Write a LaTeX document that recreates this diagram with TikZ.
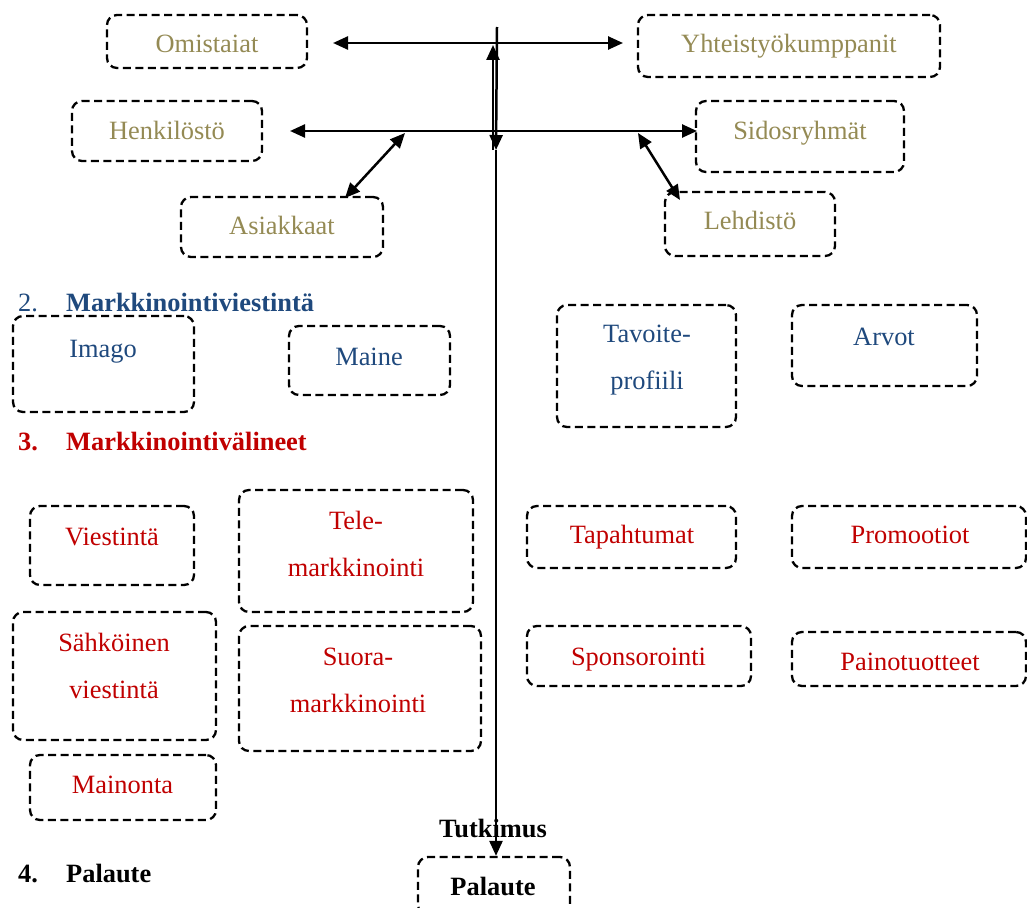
\documentclass[tikz,border=0pt]{standalone}
\usepackage{fontspec}
\setmainfont{Liberation Serif}
\usetikzlibrary{arrows.meta}
\definecolor{olv}{HTML}{948A54}
\definecolor{blu}{HTML}{1F497D}
\definecolor{rd}{HTML}{C00000}
\begin{document}
\begin{tikzpicture}[x=1pt,y=-1pt,
  box/.style={draw, dash pattern=on 8pt off 4.5pt, line width=2.3pt, rounded corners=10pt, inner sep=0pt},
  lbl/.style={font=\fontsize{26.4}{47}\selectfont, inner sep=0pt, text height=18pt, text depth=5pt},
  lblm/.style={font=\fontsize{26.4}{47}\selectfont, inner sep=0pt, align=center},
  head/.style={font=\fontsize{26.4}{30}\selectfont\bfseries, inner sep=0pt, text height=18pt, text depth=5pt, anchor=west},
  arr/.style={line width=2.5pt, -{Triangle[length=15pt,width=13pt]}},
  dbl/.style={line width=2.5pt, {Triangle[length=15pt,width=13pt]}-{Triangle[length=15pt,width=13pt]}}]
\useasboundingbox (0,0) rectangle (1027,907);
% --- olive boxes
\node[box, minimum width=200pt, minimum height=53pt] (om) at (207,41.5) {};
\node[lbl, text=olv] (omt) at (207,46) {Omistaiat};
\node[box, minimum width=302pt, minimum height=62pt] (yh) at (789,46) {};
\node[lbl, text=olv] (yht) at (789,46) {Yhteistyökumppanit};
\node[box, minimum width=190pt, minimum height=60pt] (he) at (167,131) {};
\node[lbl, text=olv] (het) at (167,133) {Henkilöstö};
\node[box, minimum width=208pt, minimum height=71pt] (si) at (800,136.5) {};
\node[lbl, text=olv] (sit) at (800,133) {Sidosryhmät};
\node[box, minimum width=202pt, minimum height=60pt] (as) at (282,227) {};
\node[lbl, text=olv] (ast) at (282,228) {Asiakkaat};
\node[box, minimum width=170pt, minimum height=64pt] (le) at (750,224) {};
\node[lbl, text=olv] (let) at (750,223) {Lehdistö};
% --- heading 2
\node[font=\fontsize{26.4}{30}\selectfont, inner sep=0pt, text height=18pt, text depth=5pt, anchor=west, text=blu] (h2n) at (18,305) {2.};
\node[head, text=blu] (h2) at (66,305) {Markkinointiviestintä};
% --- blue boxes
\node[box, minimum width=181pt, minimum height=96pt] (im) at (103.5,364) {};
\node[lbl, text=blu] (imt) at (103,351) {Imago};
\node[box, minimum width=161pt, minimum height=69pt] (ma) at (369.5,360.5) {};
\node[lbl, text=blu] (mat) at (369,359) {Maine};
\node[box, minimum width=179pt, minimum height=122pt] (ta) at (646.5,366) {};
\node[lblm, text=blu] (tat) at (647,360) {Tavoite-\\profiili};
\node[box, minimum width=185pt, minimum height=81pt] (ar) at (884.5,345.5) {};
\node[lbl, text=blu] (art) at (884,339) {Arvot};
% --- heading 3
\node[head, text=rd] (h3n) at (18,444) {3.};
\node[head, text=rd] (h3) at (66,444) {Markkinointivälineet};
% --- red boxes
\node[box, minimum width=164pt, minimum height=79pt] (vi) at (112,545.5) {};
\node[lbl, text=rd] (vit) at (112,539) {Viestintä};
\node[box, minimum width=234pt, minimum height=122pt] (te) at (356,551) {};
\node[lblm, text=rd] (tet) at (356,544) {Tele-\\markkinointi};
\node[box, minimum width=209pt, minimum height=62pt] (tp) at (631.5,537) {};
\node[lbl, text=rd] (tpt) at (632,537) {Tapahtumat};
\node[box, minimum width=234pt, minimum height=62pt] (pr) at (909,537) {};
\node[lbl, text=rd] (prt) at (910,537) {Promootiot};
\node[box, minimum width=203pt, minimum height=128pt] (sa) at (114.5,676) {};
\node[lblm, text=rd] (sat) at (114,666) {Sähköinen\\viestintä};
\node[box, minimum width=242pt, minimum height=125pt] (su) at (360,688.5) {};
\node[lblm, text=rd] (sut) at (358,680) {Suora-\\markkinointi};
\node[box, minimum width=224pt, minimum height=60pt] (sp) at (639,656) {};
\node[lbl, text=rd] (spt) at (638.5,659) {Sponsorointi};
\node[box, minimum width=234pt, minimum height=54pt] (pa) at (909,659) {};
\node[lbl, text=rd] (pat) at (910,664) {Painotuotteet};
\node[box, minimum width=186pt, minimum height=65pt] (mn) at (123,787.5) {};
\node[lbl, text=rd] (mnt) at (122.5,787) {Mainonta};
% --- feedback
\node[head, anchor=center] (tu) at (493,831) {Tutkimus};
\node[box, minimum width=152pt, minimum height=58pt] (fb) at (494,886) {};
\node[head, anchor=center] (fbt) at (493,889) {Palaute};
\node[head] (h4n) at (18,876) {4.};
\node[head] (h4) at (66,876) {Palaute};
% --- connector coordinates
\coordinate (t1) at (333,43);
\coordinate (t2) at (623,43);
\coordinate (m1) at (290,131);
\coordinate (m2) at (697,131);
\coordinate (dl) at (405,133);
\coordinate (dl2) at (345,198);
\coordinate (dr) at (638,133);
\coordinate (dr2) at (680,200);
\coordinate (vtop) at (497,27);
\coordinate (vmid) at (496,150);
\coordinate (vup0) at (493,150);
\coordinate (vup1) at (493,45);
% --- connectors
\draw[dbl] (t1) -- (t2);
\draw[dbl] (m1) -- (m2);
\draw[dbl] (dl) -- (dl2);
\draw[dbl] (dr) -- (dr2);
\draw[arr] (vtop) -- (vmid);
\draw[arr] (vup0) -- (vup1);
\draw[arr] (vmid) -- (fb.north -| vmid);
\end{tikzpicture}
\end{document}
